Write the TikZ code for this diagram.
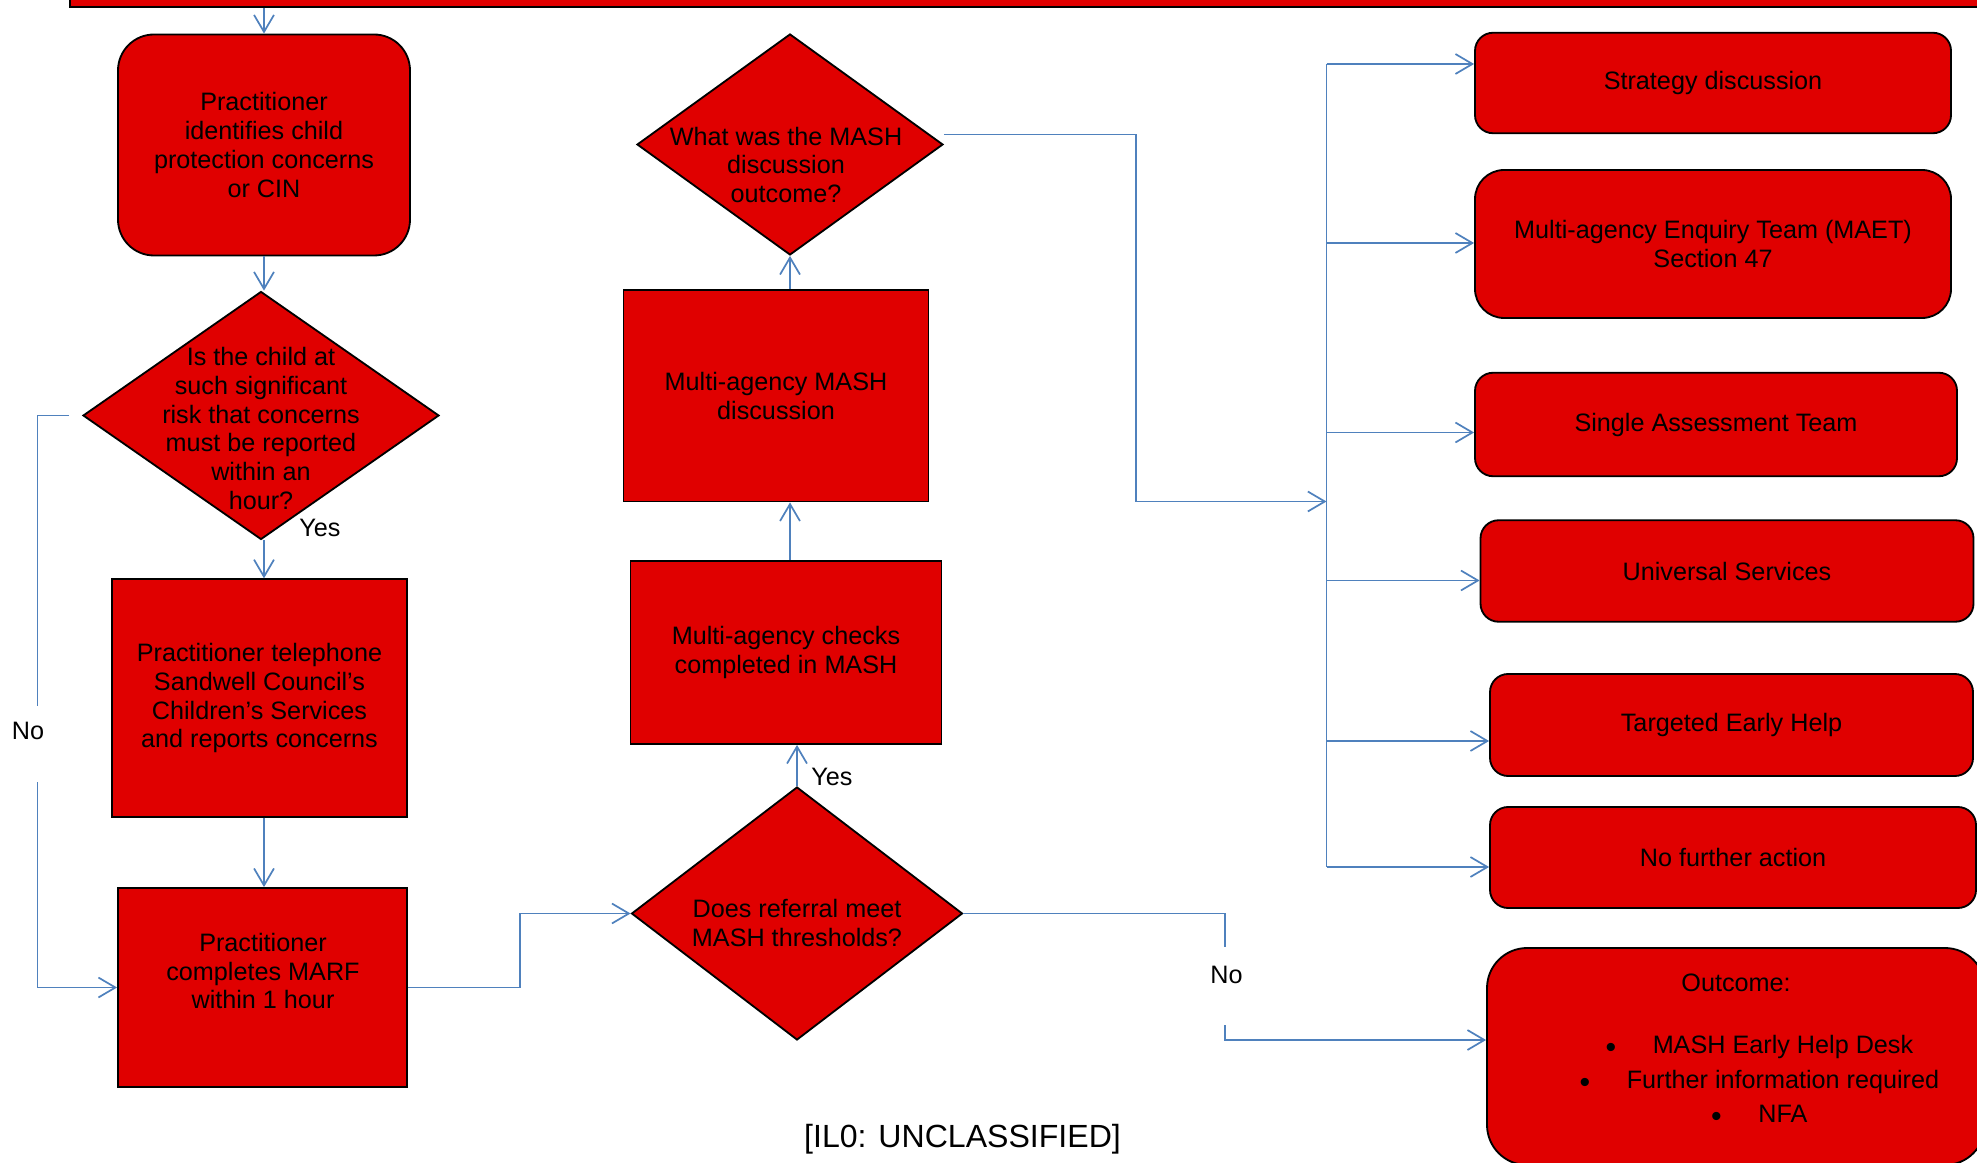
\documentclass[tikz,border=0pt]{standalone}
\usepackage{fontspec}
\setmainfont{Liberation Sans}
\usetikzlibrary{shapes.geometric,arrows.meta}

\definecolor{mashred}{RGB}{224,0,0}
\definecolor{linkblue}{RGB}{79,129,189}
\def\px{0.4365pt} % one pixel of the layout
\newcommand{\listdot}{\hspace*{41pt}\llap{\raisebox{-1.75pt}{\scalebox{1.2}{\textbullet}}\hspace{16pt}}}

\begin{document}
\begin{tikzpicture}[x=\px, y=-\px,
	>={Straight Barb[length=7.4pt,width=8.7pt]},
	box/.style={draw, fill=mashred, line width=0.8pt, inner sep=0pt, align=center, font=\fontsize{11}{12.65}\selectfont},
	dia/.style={box, diamond},
	txt/.style={inner sep=0pt, align=center, font=\fontsize{11}{12.65}\selectfont},
	wire/.style={draw=linkblue, line width=0.75pt},
	flow/.style={wire, ->}]

\useasboundingbox (0,0) rectangle (1977,1163);
\clip (0,0) rectangle (1977,1163);

\def \busx {1326.5}

% left column
\node[box, minimum width=1940*\px, minimum height=47*\px] (bar) at (1040,-16.5) {};
\node[box, rounded corners=15.7pt, minimum width=292*\px, minimum height=221*\px] (ident) at (264,145) {Practitioner\\identifies child\\protection concerns\\or CIN};
\node[dia, minimum width=356*\px, minimum height=248*\px] (risk) at (261,415.5) {};
\node[txt] (riskq) at (261,428.5) {Is the child at\\such significant\\risk that concerns\\must be reported\\within an\\hour?};
\node[box, minimum width=295*\px, minimum height=237.5*\px] (phone) at (259.5,698) {Practitioner telephone\\Sandwell Council’s\\Children’s Services\\and reports concerns};
\node[box, minimum width=289*\px, minimum height=199*\px] (marf) at (262.5,987.5) {};
\node[txt] (marfq) at (263,971) {Practitioner\\completes MARF\\within 1 hour};

% middle column
\node[dia, minimum width=331*\px, minimum height=253*\px] (thresh) at (797,913.5) {};
\node[txt] (threshq) at (797,922.5) {Does referral meet\\MASH thresholds?};
\node[box, minimum width=311*\px, minimum height=183*\px] (checks) at (786,652.5) {Multi-agency checks\\completed in MASH};
\node[box, minimum width=305*\px, minimum height=211.5*\px] (mashdisc) at (776,395.75) {Multi-agency MASH\\discussion};
\node[dia, minimum width=306*\px, minimum height=221*\px] (outq) at (790,144.5) {};
\node[txt] (outqq) at (786,165) {What was the MASH\\discussion\\outcome?};

\node[txt] (yes1) at (320,528) {Yes};
\node[txt] (yes2) at (832,777) {Yes};
\node[txt] (no1) at (28,731) {No};
\node[txt] (no2) at (1226.5,974.5) {No};
\node[txt, font=\fontsize{14}{16}\selectfont] (tag) at (962.5,1139) {[IL0: UNCLASSIFIED]};

% outcomes
\foreach \nm/\cx/\cy/\bw/\bh/\rad/\ay/\lbl in {
	strat/1713/83/476/100.5/7.9pt/64/{Strategy discussion},
	maet/1713/244/476/148/12.7pt/243/{Multi-agency Enquiry Team (MAET)\\Section 47},
	sat/1716/424.5/482/103.5/7.9pt/432.5/{Single Assessment Team},
	univ/1727/571/493/101.5/7.9pt/580.5/{Universal Services},
	teh/1731.5/725/483/102/7.9pt/741/{Targeted Early Help},
	nfa/1733/857.5/486/101/7.9pt/867/{No further action}}
{
	\node[box, rounded corners=\rad, minimum width=\bw*\px, minimum height=\bh*\px] (\nm) at (\cx,\cy) {\lbl};
	\coordinate (a\nm) at (\busx,\ay);
	\draw[flow] (a\nm) -- (a\nm -| \nm.west);
}
\draw[wire] (astrat) -- (anfa);

\node[box, rounded corners=17.5pt, minimum width=498*\px, minimum height=217*\px] (res) at (1736,1056.5) {};
\node[txt] (resq) at (1736,1050.5) {Outcome:\\[14.2pt]
	\listdot MASH Early Help Desk\\[2.5pt]
	\listdot Further information required\\[2.5pt]
	\listdot NFA};

% connectors
\draw[flow] (bar.south -| ident) -- (ident.north);
\draw[flow] (ident.south) -- (ident.south |- risk.north);
\draw[flow] (risk.south -| ident) -- (ident |- phone.north);
\draw[flow] (phone.south -| ident) -- (ident |- marf.north);

\coordinate (gapa) at (37.5,706);
\coordinate (gapb) at (37.5,782);
\draw[wire, shorten <=5.7pt] (risk.west) -| (gapa);
\draw[flow] (gapb) |- (marf.west);

\draw[flow] (marf.east) -- ++(112,0) |- (thresh.west);
\draw[flow] (thresh.north) -- (thresh.north |- checks.south);
\draw[flow] (checks.north -| outq) -- (mashdisc.south -| outq);
\draw[flow] (mashdisc.north -| outq) -- (outq.south);

\coordinate (join) at (\busx,501.5);
\draw[flow] ([yshift=4.4pt]outq.east) -- ++(192,0) |- (join);

\coordinate (gapc) at (1225,947);
\coordinate (gapd) at (1225,1025);
\draw[wire] (thresh.east) -| (gapc);
\draw[flow] (gapd) |- ([yshift=7.2pt]res.west);
\end{tikzpicture}
\end{document}
